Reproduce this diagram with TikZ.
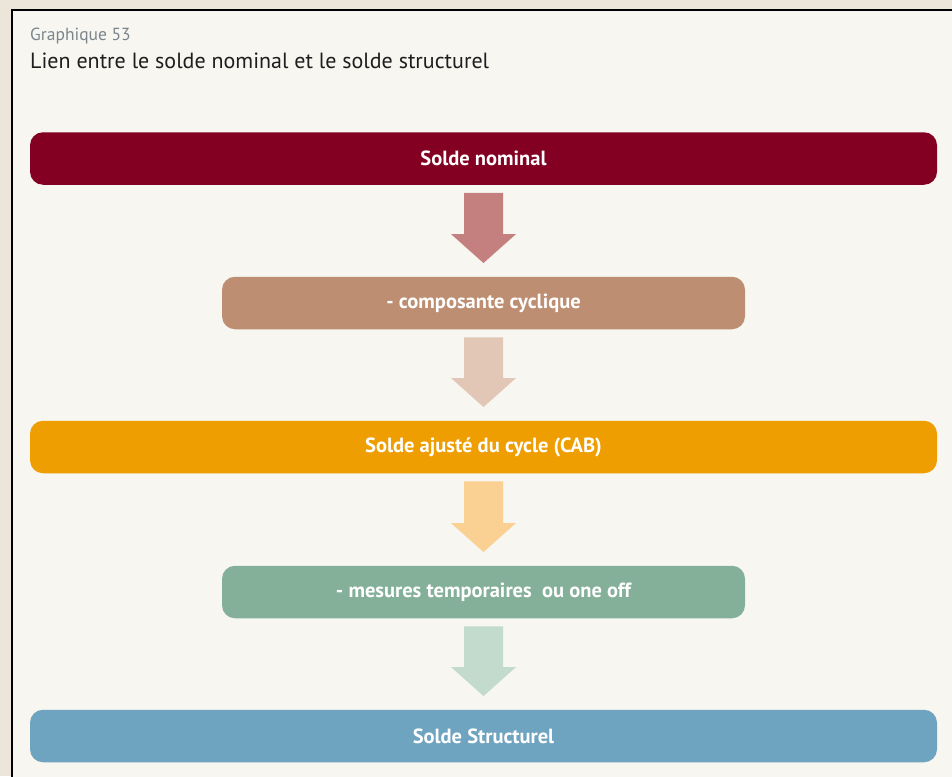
\documentclass[tikz,border=0pt]{standalone}
\usepackage{fontspec}
\setmainfont{PT Sans}
\usetikzlibrary{calc}
\definecolor{outerbg}{HTML}{EBE5DA}
\definecolor{innerbg}{HTML}{F7F6F1}
\definecolor{capgray}{HTML}{7A868C}
\definecolor{titlecol}{HTML}{1E1E1E}
\definecolor{cA}{HTML}{840022}
\definecolor{cB}{HTML}{BD8E71}
\definecolor{cC}{HTML}{EE9E00}
\definecolor{cD}{HTML}{84B09A}
\definecolor{cE}{HTML}{6FA4C0}
\definecolor{aA}{HTML}{C47F7F}
\definecolor{aB}{HTML}{E2C6B6}
\definecolor{aC}{HTML}{FAD193}
\definecolor{aD}{HTML}{C3DBCD}
\tikzset{
  box/.style={rounded corners=13pt, minimum height=52.5pt, inner sep=0pt,
    text=white, font=\fontsize{20.5}{23}\selectfont\bfseries},
  widebox/.style={box, minimum width=907pt},
  narrowbox/.style={box, minimum width=523pt},
}
\newcommand{\blockarrow}[3]{% from node, to node, colour
  \coordinate (#1-top) at ($(#1.south)+(0,8)$);
  \coordinate (#1-tip) at ($(#2.north)+(0,-13.5)$);
  \fill[#3] ($(#1-top)+(-19.5,0)$) -- ($(#1-top)+(19.5,0)$)
    -- ($(#1-tip)+(19.5,-29)$) -- ($(#1-tip)+(32.5,-29)$) -- (#1-tip)
    -- ($(#1-tip)+(-32.5,-29)$) -- ($(#1-tip)+(-19.5,-29)$) -- cycle;
}
\begin{document}
\begin{tikzpicture}[x=1pt,y=-1pt]
\useasboundingbox (0,0) rectangle (952,776);
\fill[outerbg] (0,0) rectangle (952,776);
\fill[innerbg] (12,10) rectangle (960,790);
\draw[black, line width=2.5pt] (12,790) -- (12,10) -- (960,10);
\node[anchor=base west, text=capgray, font=\fontsize{17.5}{20}\selectfont, inner sep=0pt] (cap) at (30,41) {Graphique 53};
\node[anchor=base west, text=titlecol, font=\fontsize{22}{25}\selectfont, inner sep=0pt] (title) at (30,68.5) {Lien entre le solde nominal et le solde structurel};
\node[widebox, fill=cA] (b1) at (483.5,158.5) {Solde nominal};
\node[narrowbox, fill=cB] (b2) at (483.5,303) {- composante cyclique};
\node[widebox, fill=cC] (b3) at (483.5,447) {Solde ajusté du cycle (CAB)};
\node[narrowbox, fill=cD] (b4) at (483.5,592) {- mesures temporaires~~ou one off};
\node[widebox, fill=cE] (b5) at (483.5,736) {Solde Structurel};
\blockarrow{b1}{b2}{aA}
\blockarrow{b2}{b3}{aB}
\blockarrow{b3}{b4}{aC}
\blockarrow{b4}{b5}{aD}
\end{tikzpicture}
\end{document}
